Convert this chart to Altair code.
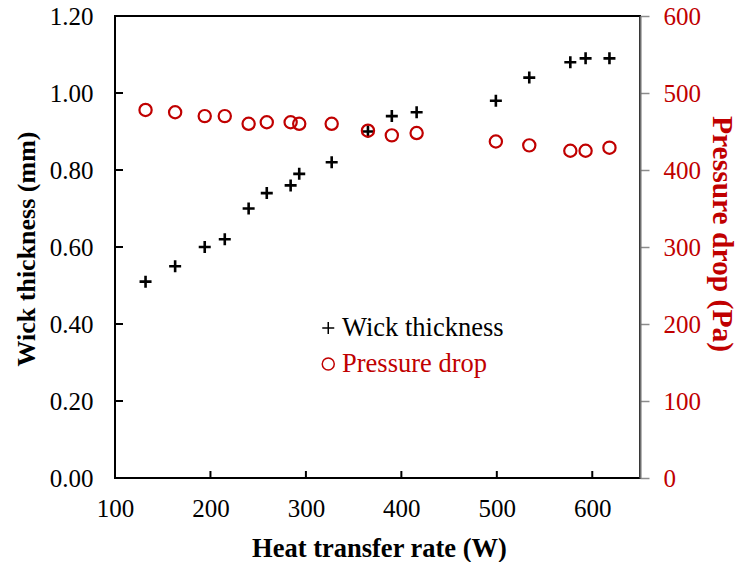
import altair as alt
import pandas as pd

# ---- data ----
heat_rate = [132, 163, 194, 215, 240, 259, 284, 293, 327, 365, 390, 416, 499, 534, 577, 593, 618]
wick_thickness = [0.51, 0.55, 0.60, 0.62, 0.70, 0.74, 0.76, 0.79, 0.82, 0.90, 0.94, 0.95,
                  0.98, 1.04, 1.08, 1.09, 1.09]
pressure_drop = [478, 475, 470, 470, 460, 462, 462, 460, 460, 451, 445, 448,
                 437, 432, 425, 425, 429]
series_names = ["Wick thickness", "Pressure drop"]
x_ticks = [100, 200, 300, 400, 500, 600]
left_ticks = [0.0, 0.2, 0.4, 0.6, 0.8, 1.0, 1.2]
right_ticks = [0, 100, 200, 300, 400, 500, 600]

W, H = 525, 462
RED = "#C00000"
FONT = "Liberation Serif"
PLUS = "M-1,0H1M0,-1V1"

df = pd.DataFrame({"q": heat_rate, "t": wick_thickness, "p": pressure_drop})

x_scale = alt.Scale(domain=[100, 650], nice=False, zero=False)
y_left_scale = alt.Scale(domain=[0, 1.2], nice=False, zero=False)
y_right_scale = alt.Scale(domain=[0, 600], nice=False, zero=False)
color_scale = alt.Scale(domain=series_names, range=["#000000", RED])
shape_scale = alt.Scale(domain=series_names, range=[PLUS, "circle"])

legend = alt.Legend(
    title=None, orient="none", legendX=200, legendY=298.7, padding=0,
    labelFont=FONT, labelFontSize=26.5, labelOffset=0.5, rowPadding=9, labelLimit=400,
    symbolSize=144, symbolStrokeWidth=1.5, symbolOpacity=1,
    labelColor=alt.ExprRef(expr="datum.label === 'Pressure drop' ? '#C00000' : '#000000'"),
)

x_axis = alt.Axis(
    values=x_ticks, title="Heat transfer rate (W)", orient="bottom",
    domain=False, ticks=False, tickSize=0, grid=False, labelPadding=18.5, labelFlush=False,
    labelFont=FONT, labelFontSize=25, labelColor="#000000",
    titleFont=FONT, titleFontSize=26.5, titleFontWeight="bold", titleColor="#000000",
    titleX=264, titleY=78, titleAlign="center", titleBaseline="alphabetic",
)

left_axis = alt.Axis(
    values=left_ticks, format=".2f", title="Wick thickness (mm)", orient="left",
    domain=False, ticks=False, tickSize=0, grid=False, labelPadding=22, labelFlush=False,
    labelFont=FONT, labelFontSize=25, labelColor="#000000",
    titleFont=FONT, titleFontSize=26, titleFontWeight="bold", titleColor="#000000",
    titleAngle=270, titleX=-89, titleY=232.5, titleAlign="center", titleBaseline="middle",
)

right_axis = alt.Axis(
    values=right_ticks, format="d", title="Pressure drop (Pa)", orient="right",
    domain=True, domainColor="#6f6f6f", domainWidth=2, labelFlush=False,
    ticks=True, tickSize=9, tickColor="#8c8c8c", tickWidth=1.5, grid=False,
    labelPadding=14, labelFont=FONT, labelFontSize=25, labelColor=RED,
    titleFont=FONT, titleFontSize=29.5, titleFontWeight="bold", titleColor=RED,
    titleAngle=90, titleX=81, titleY=217.5, titleAlign="center", titleBaseline="middle",
)

thick_pts = alt.Chart(df).transform_calculate(series="'Wick thickness'").mark_point(
    filled=False, size=144, strokeWidth=2.6, opacity=1
).encode(
    x=alt.X("q:Q", scale=x_scale, axis=x_axis),
    y=alt.Y("t:Q", scale=y_left_scale, axis=left_axis),
    color=alt.Color("series:N", scale=color_scale, legend=legend),
    shape=alt.Shape("series:N", scale=shape_scale, legend=legend),
)

# inward tick marks at the left and bottom (drawn through the same scales)
left_inner = alt.Chart(pd.DataFrame({"t": left_ticks[1:-1]})).mark_rule(
    color="#000000", strokeWidth=2
).encode(
    y=alt.Y("t:Q", scale=y_left_scale, axis=left_axis),
    x=alt.value(0), x2=alt.value(8),
)

bottom_inner = alt.Chart(pd.DataFrame({"q": x_ticks[1:]})).mark_rule(
    color="#000000", strokeWidth=2
).encode(
    x=alt.X("q:Q", scale=x_scale, axis=x_axis),
    y=alt.value(H), y2=alt.value(H - 7),
)

press_pts = alt.Chart(df).transform_calculate(series="'Pressure drop'").mark_point(
    filled=False, size=150, strokeWidth=2.2, opacity=1
).encode(
    x=alt.X("q:Q", scale=x_scale, axis=x_axis),
    y=alt.Y("p:Q", scale=y_right_scale, axis=right_axis),
    color=alt.Color("series:N", scale=color_scale, legend=legend),
    shape=alt.Shape("series:N", scale=shape_scale, legend=legend),
)

left_group = alt.layer(thick_pts, left_inner, bottom_inner)

chart = (
    alt.layer(left_group, press_pts)
    .resolve_scale(y="independent")
    .properties(
        width=W, height=H,
        autosize=alt.AutoSizeParams(type="none"),
        padding={"left": 115, "top": 16, "right": 97, "bottom": 84},
        background="#ffffff",
    )
    .configure_view(stroke="#000000", strokeWidth=2)
)

chart.save("out.html", embed_options={"renderer": "svg", "actions": False})
